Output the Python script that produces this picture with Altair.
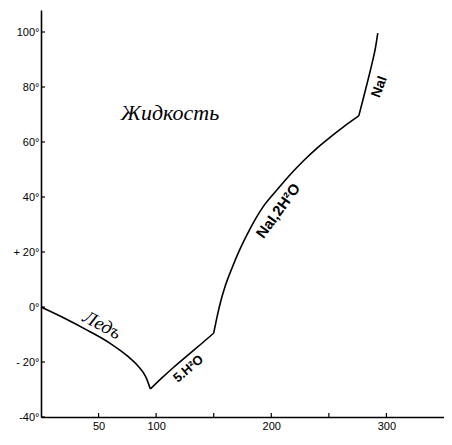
import altair as alt
import pandas as pd

# --- curve data (composition, temperature °C) ---
ice_x = [0, 20, 40, 60, 75, 85, 91, 95]
ice_y = [0, -4.0, -8.4, -13.2, -17.8, -21.8, -25.4, -29.8]

penta_x = [95, 105, 115, 125, 135, 150]
penta_y = [-29.8, -25.8, -22.0, -18.4, -14.9, -9.5]

dihyd_x = [150, 153, 156, 160, 166, 173, 182, 193, 205, 216.5, 228, 240, 251, 263, 276]
dihyd_y = [-9.5, -3.4, 1.9, 7.6, 14.3, 21.2, 28.8, 36.5, 42.6, 48.2, 53.2, 57.9, 61.7, 65.6, 69.5]

nai_x = [276, 280, 284, 287.5, 290.5, 292.5]
nai_y = [69.5, 76.0, 82.6, 88.6, 94.3, 99.6]

x_ticks = [50, 100, 150, 200, 250, 300]
x_tick_labels = ["50", "100", "", "200", "", "300"]
y_ticks = [-40, -20, 0, 20, 40, 60, 80, 100]
y_tick_labels = ["-40°", "- 20°", "0°", "+ 20°", "40°", "60°", "80°", "100°"]

labels_text = ["Жидкость", "Ледъ", "5.H²O", "NaI,2H²O", "NaI"]
labels_x = [112, 53, 128, 206, 294]
labels_y = [70.4, -6.5, -22.5, 35, 80]

W, H = 403, 407

rows = []
for seg, xs, ys in [("ice", ice_x, ice_y), ("penta", penta_x, penta_y),
                    ("dihyd", dihyd_x, dihyd_y), ("nai", nai_x, nai_y)]:
    for i, (a, b) in enumerate(zip(xs, ys)):
        rows.append({"seg": seg, "x": a, "y": b, "i": i})
df = pd.DataFrame(rows)


def expr_for(vals, labs):
    e = "''"
    for v, l in reversed(list(zip(vals, labs))):
        e = f"datum.value == {v} ? '{l}' : " + e
    return e


x_scale = alt.Scale(domain=[0, 350], nice=False, zero=False)
y_scale = alt.Scale(domain=[-40, 108], nice=False, zero=False)

axis_common = dict(title=None, grid=False, domainColor="black", domainWidth=1.6,
                   tickSize=0, labelFont="Liberation Sans", labelFontSize=11,
                   labelColor="black")

x_axis = alt.Axis(values=x_ticks, labelExpr=expr_for(x_ticks, x_tick_labels),
                  labelPadding=3, labelFlush=False, **axis_common)
y_axis = alt.Axis(values=y_ticks, labelExpr=expr_for(y_ticks, y_tick_labels),
                  labelPadding=2, **axis_common)

line = alt.Chart(df).mark_line(color="black", strokeWidth=1.6, interpolate="monotone").encode(
    x=alt.X("x:Q", scale=x_scale, axis=x_axis),
    y=alt.Y("y:Q", scale=y_scale, axis=y_axis),
    detail="seg:N",
    order="i:Q",
)

ytick = alt.Chart(pd.DataFrame({"v": y_ticks})).mark_rule(color="black", strokeWidth=1.2).encode(
    y=alt.Y("v:Q", scale=y_scale, axis=y_axis),
    x=alt.value(0), x2=alt.value(4),
)
xtick = alt.Chart(pd.DataFrame({"v": x_ticks})).mark_rule(color="black", strokeWidth=1.2).encode(
    x=alt.X("v:Q", scale=x_scale, axis=x_axis),
    y=alt.value(H), y2=alt.value(H - 4),
)

styles = [
    dict(font="Liberation Serif", fontSize=22, fontStyle="italic", angle=0),
    dict(font="Liberation Serif", fontSize=19, fontStyle="italic", angle=28),
    dict(font="Liberation Sans", fontSize=13, fontWeight="bold", angle=320),
    dict(font="Liberation Sans", fontSize=15, fontWeight="bold", angle=306),
    dict(font="Liberation Sans", fontSize=14, fontWeight="bold", angle=290),
]

texts = []
for t, a, b, st in zip(labels_text, labels_x, labels_y, styles):
    texts.append(
        alt.Chart(pd.DataFrame({"t": [t], "x": [a], "y": [b]})).mark_text(
            color="black", align="center", baseline="middle", **st
        ).encode(
            x=alt.X("x:Q", scale=x_scale, axis=x_axis),
            y=alt.Y("y:Q", scale=y_scale, axis=y_axis),
            text="t:N",
        )
    )

chart = alt.layer(line, ytick, xtick, *texts).properties(
    width=W, height=H,
    autosize=alt.AutoSizeParams(type="none"),
    padding={"left": 33, "top": 2, "right": 0, "bottom": 20},
    background="white",
).configure_view(stroke=None)

chart.save("out.html", embed_options={"renderer": "svg", "actions": False})
